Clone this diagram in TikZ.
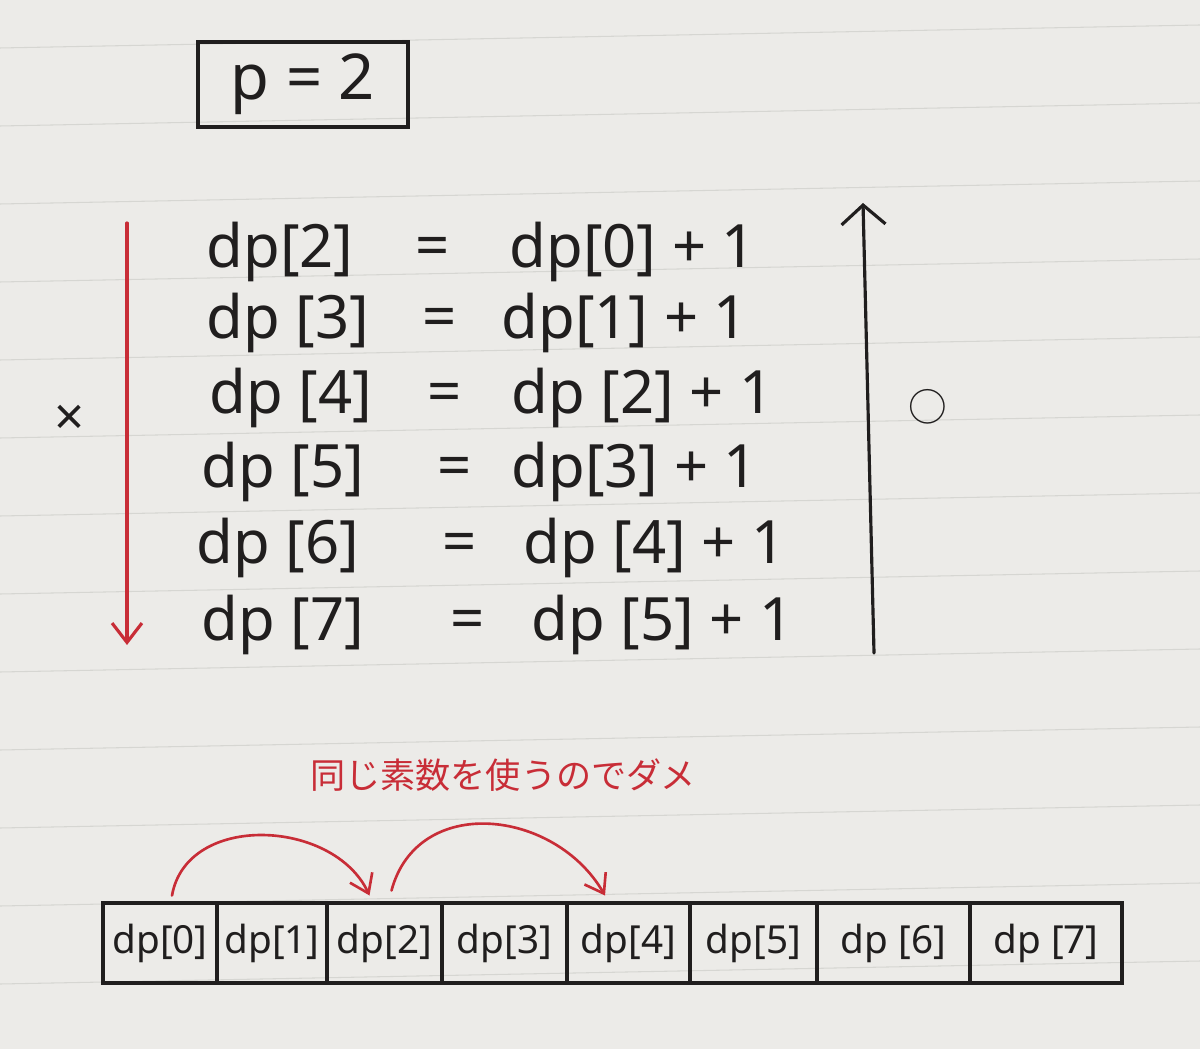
\documentclass[tikz,border=0pt]{standalone}
\usepackage{fontspec}
\setmainfont{Noto Sans}
\newfontfamily\jpfont{Noto Sans CJK JP}
\usetikzlibrary{arrows.meta,positioning}
\definecolor{paper}{RGB}{236,235,232}
\definecolor{ruleline}{RGB}{214,214,210}
\definecolor{ink}{RGB}{32,30,30}
\definecolor{redpen}{RGB}{200,45,55}

\begin{document}
\begin{tikzpicture}[line width=1.8pt, line cap=round, draw=ink, text=ink,
  box node/.style={draw,minimum width=4.2cm,minimum height=1.7cm,font=\fontsize{36}{40}\selectfont},
  eq node/.style={anchor=west,inner sep=0pt,font=\fontsize{34}{40}\selectfont},
  sign node/.style={inner sep=0pt,font=\fontsize{34}{40}\selectfont},
  cell node/.style={draw,minimum height=1.6cm,inner sep=0pt,outer sep=0pt,font=\fontsize{22}{26}\selectfont},
  note node/.style={text=redpen,font=\jpfont\fontsize{20}{24}\selectfont},
  down arrow/.style={draw=redpen,-{Straight Barb[length=11pt,width=17pt]}},
  up arrow/.style={-{Straight Barb[length=11pt,width=25pt]}},
  jump arrow/.style={draw=redpen,line width=1.5pt,-{Straight Barb[length=10pt,width=14pt]}}]

  % paper
  \useasboundingbox (0,0) rectangle (24,20.98);
  \fill[paper] (0,0) rectangle (24,20.98);
  \foreach \k in {0,...,12}
    \draw[ruleline,line width=0.6pt] (0,{(1049-48-78*\k)/50}) -- (24,{(1049-25-78*\k)/50});

  % p = 2
  \node[box node] (P) at (6.06,19.29) {p = 2};

  % recurrences
  \node[eq node] (l2) at (4.10,15.94) {dp[2]};
  \node[sign node] (e2) at (8.66,15.94) {=};
  \node[eq node] (r2) at (10.16,15.94) {dp[0] + 1};

  \node[eq node] (l3) at (4.10,14.52) {dp [3]};
  \node[sign node] (e3) at (8.80,14.52) {=};
  \node[eq node] (r3) at (10.00,14.52) {dp[1] + 1};

  \node[eq node] (l4) at (4.16,13.02) {dp [4]};
  \node[sign node] (e4) at (8.90,13.02) {=};
  \node[eq node] (r4) at (10.20,13.02) {dp [2] + 1};

  \node[eq node] (l5) at (4.00,11.54) {dp [5]};
  \node[sign node] (e5) at (9.10,11.54) {=};
  \node[eq node] (r5) at (10.20,11.54) {dp[3] + 1};

  \node[eq node] (l6) at (3.90,10.02) {dp [6]};
  \node[sign node] (e6) at (9.20,10.02) {=};
  \node[eq node] (r6) at (10.44,10.02) {dp [4] + 1};

  \node[eq node] (l7) at (4.00,8.48) {dp [7]};
  \node[sign node] (e7) at (9.36,8.48) {=};
  \node[eq node] (r7) at (10.60,8.48) {dp [5] + 1};

  % order marks
  \coordinate (ds) at (2.54,16.52);
  \coordinate (de) at (2.54,8.08);
  \draw[down arrow] (ds) -- (de);
  \node[sign node,font=\fontsize{30}{34}\selectfont] (bad) at (1.4,12.58) {×};

  \coordinate (us) at (17.48,7.92);
  \coordinate (ue) at (17.26,16.92);
  \draw[up arrow] (us) -- (ue);
  \node[sign node,font=\jpfont\fontsize{22}{24}\selectfont] (good) at (18.56,12.84) {○};

  % array
  \node[note node] (note) at (10.06,5.48) {同じ素数を使うのでダメ};

  \node[cell node,minimum width=2.28cm] (c0) at (3.20,2.12) {dp[0]};
  \node[cell node,minimum width=2.20cm,right=0pt of c0] (c1) {dp[1]};
  \node[cell node,minimum width=2.30cm,right=0pt of c1] (c2) {dp[2]};
  \node[cell node,minimum width=2.50cm,right=0pt of c2] (c3) {dp[3]};
  \node[cell node,minimum width=2.46cm,right=0pt of c3] (c4) {dp[4]};
  \node[cell node,minimum width=2.54cm,right=0pt of c4] (c5) {dp[5]};
  \node[cell node,minimum width=3.06cm,right=0pt of c5] (c6) {dp [6]};
  \node[cell node,minimum width=3.04cm,right=0pt of c6] (c7) {dp [7]};

  \draw[jump arrow] ([xshift=0.24cm,yshift=0.15cm]c0.north)
    to[out=80,in=115,looseness=1.1] ([xshift=-0.3cm,yshift=0.15cm]c2.north);
  \draw[jump arrow] ([xshift=0.14cm,yshift=0.25cm]c2.north)
    to[out=75,in=120,looseness=1.2] ([xshift=-0.47cm,yshift=0.15cm]c4.north);
\end{tikzpicture}
\end{document}
